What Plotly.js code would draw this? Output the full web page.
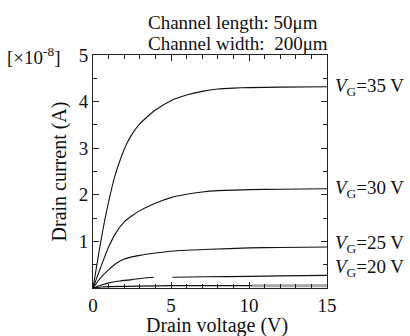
<!DOCTYPE html>
<html><head><meta charset="utf-8">
<script src="https://cdn.plot.ly/plotly-3.0.1.min.js"></script>
<style>html,body{margin:0;padding:0;background:#fff;}</style>
</head><body><div id="chart" style="width:410px;height:336px;"></div>
<script>
// Drain voltage (V) and drain current (x1e-8 A)
const vg35_x = [0, 0.25, 0.5, 0.75, 1, 1.4, 1.8, 2.2, 2.6, 3, 3.5, 4, 5, 6, 7, 8, 9, 10, 12, 15];
const vg35_y = [0, 0.5, 1.0, 1.45, 1.85, 2.4, 2.8, 3.12, 3.35, 3.52, 3.68, 3.82, 4.02, 4.14, 4.22, 4.27, 4.29, 4.3, 4.31, 4.32];
const vg30_x = [0, 0.5, 1, 1.5, 2, 2.5, 3, 4, 5, 6, 7, 8, 10, 12, 15];
const vg30_y = [0, 0.45, 0.88, 1.2, 1.42, 1.55, 1.66, 1.82, 1.94, 2.01, 2.06, 2.09, 2.11, 2.12, 2.13];
const vg25_x = [0, 0.3, 0.6, 1, 1.5, 2, 3, 4, 5, 6, 7.5, 10, 12, 15];
const vg25_y = [0, 0.14, 0.26, 0.39, 0.53, 0.62, 0.7, 0.75, 0.79, 0.81, 0.83, 0.86, 0.87, 0.88];
const vg20_x = [0, 0.5, 1, 1.7, 2.5, 3.2, 3.9, 4.5, 5.1, 7.2, 10, 12, 15];
const vg20_y = [0, 0.06, 0.11, 0.15, 0.18, 0.21, 0.23, null, 0.23, 0.24, 0.25, 0.26, 0.27];
const vg15_x = [0, 0.5, 1, 3, 5, 10, 15];
const vg15_y = [0, 0.02, 0.03, 0.04, 0.05, 0.05, 0.06];
const band_x = [10.2, 15];
const band_y = [0.05, 0.05];
const labels = ['35', '30', '25', '20'];
const labelY = [4.32, 2.13, 0.95, 0.43];

const font = 'Liberation Serif, Times New Roman, serif';
const mk = (x, y) => ({x: x, y: y, mode: 'lines', line: {color: '#111', width: 1.1, shape: 'spline', smoothing: 0.6}, hoverinfo: 'skip', connectgaps: false});
const data = [mk(vg35_x, vg35_y), mk(vg30_x, vg30_y), mk(vg25_x, vg25_y), mk(vg20_x, vg20_y), mk(vg15_x, vg15_y),
  {x: band_x, y: band_y, mode: 'lines', line: {color: '#aaa', width: 3}, hoverinfo: 'skip'}];

const annotations = labels.map((v, i) => ({
  xref: 'paper', yref: 'y', x: 1.026, y: labelY[i], xanchor: 'left', yanchor: 'middle',
  text: '<i>V</i><sub>G</sub>=' + v + ' V', showarrow: false, font: {family: font, size: 19, color: '#111'}
}));
annotations.push({xref: 'paper', yref: 'paper', x: -0.378, y: 0.995, xanchor: 'left', yanchor: 'middle',
  text: '[×10<sup>-8</sup>]', showarrow: false, font: {family: font, size: 19, color: '#111'}});
annotations.push({xref: 'paper', yref: 'paper', x: 0.228, y: 1.1416, xanchor: 'left', yanchor: 'middle',
  text: 'Channel length: 50μm', showarrow: false, font: {family: font, size: 19, color: '#111'}});
annotations.push({xref: 'paper', yref: 'paper', x: 0.228, y: 1.0515, xanchor: 'left', yanchor: 'middle',
  text: 'Channel width:  200μm', showarrow: false, font: {family: font, size: 19, color: '#111'}});
annotations.push({xref: 'paper', yref: 'paper', x: 0.53, y: -0.162, xanchor: 'center', yanchor: 'middle',
  text: 'Drain voltage (V)', showarrow: false, font: {family: font, size: 20, color: '#111'}});

const layout = {
  width: 410, height: 336,
  margin: {l: 93, r: 83, t: 55, b: 48},
  paper_bgcolor: '#fff', plot_bgcolor: '#fff',
  showlegend: false,
  font: {family: font, size: 19, color: '#111'},
  xaxis: {
    range: [0, 15], tickvals: [0, 5, 10, 15], ticks: 'inside', ticklen: 6, tickcolor: '#222',
    showline: true, linecolor: '#222', linewidth: 1, mirror: 'allticks', showgrid: false, zeroline: false,
    minor: {dtick: 1, ticks: 'inside', ticklen: 4, tickcolor: '#222'}
  },
  yaxis: {
    range: [0, 5], tickvals: [1, 2, 3, 4, 5], ticks: 'inside', ticklen: 6, tickcolor: '#222',
    showline: true, linecolor: '#222', linewidth: 1, mirror: 'allticks', showgrid: false, zeroline: false,
    minor: {dtick: 0.5, ticks: 'inside', ticklen: 4, tickcolor: '#222'},
    title: {text: 'Drain current (A)', font: {family: font, size: 20}, standoff: 6}
  },
  annotations: annotations
};
Plotly.newPlot('chart', data, layout, {displayModeBar: false, staticPlot: true});
</script></body></html>
